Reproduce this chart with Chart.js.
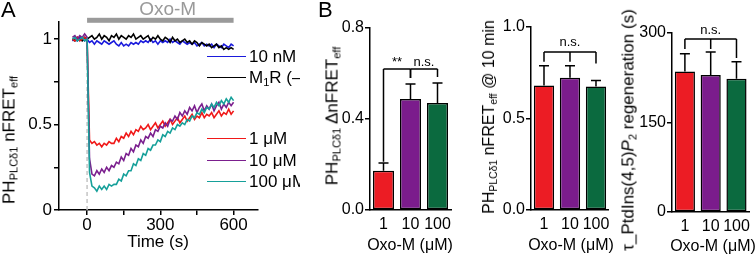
<!DOCTYPE html>
<html><head><meta charset="utf-8">
<script src="https://cdn.jsdelivr.net/npm/chart.js@4.4.1/dist/chart.umd.min.js"></script>
<style>
html,body{margin:0;padding:0;background:#fff;width:755px;height:257px;overflow:hidden;position:relative;font-family:'Liberation Sans',Arial,Helvetica,sans-serif;color:#000}
canvas{position:absolute}
.t{position:absolute;white-space:nowrap;line-height:1}
.rot{transform:translate(-50%,-50%) rotate(-90deg)}
.ctr{transform:translate(-50%,-50%)}
.sb{font-size:65%;position:relative;top:0.3em}
#wrapA{position:absolute;left:0;top:0;width:300px;height:257px;overflow:hidden}
.lg{position:absolute;left:207px;width:39px;height:0;border-top:1.6px solid #000}
</style></head><body>
<div id="wrapA">
<canvas id="cA" width="300" height="257" style="left:0;top:0"></canvas>
<div class="lg" style="top:56px;border-color:#1a1adc"></div>
<div class="lg" style="top:77px;border-color:#000"></div>
<div class="lg" style="top:138px;border-color:#f01818"></div>
<div class="lg" style="top:160px;border-color:#7b1f8e"></div>
<div class="lg" style="top:181px;border-color:#16a09a"></div>
<div class="t" style="left:249px;top:48px;font-size:17px">10 nM</div>
<div class="t" style="left:249px;top:69px;font-size:17px">M<span class="sb">1</span>R (–)</div>
<div class="t" style="left:249px;top:130px;font-size:17px">1 μM</div>
<div class="t" style="left:249px;top:152px;font-size:17px">10 μM</div>
<div class="t" style="left:249px;top:173px;font-size:17px">100 μM</div>
</div>
<canvas id="cB" width="160" height="257" style="left:300px;top:0"></canvas>
<canvas id="cC" width="155" height="257" style="left:460px;top:0"></canvas>
<canvas id="cD" width="140" height="257" style="left:615px;top:0"></canvas>

<div class="t" style="left:1px;top:-1px;font-size:22px">A</div>
<div class="t" style="left:318px;top:-1px;font-size:22px">B</div>

<div class="t rot" style="left:9px;top:140px;font-size:17px">PH<span class="sb">PLCδ1</span> nFRET<span class="sb">eff</span></div>
<div class="t ctr" style="left:158px;top:241px;font-size:17px">Time (s)</div>

<div class="t rot" style="left:332px;top:116px;font-size:17px">PH<span class="sb">PLCδ1</span> ΔnFRET<span class="sb">eff</span></div>
<div class="t ctr" style="left:410px;top:245px;font-size:16px">Oxo-M (μM)</div>

<div class="t rot" style="left:489px;top:117px;font-size:16px">PH<span class="sb">PLCδ1</span> nFRET<span class="sb">eff</span> @ 10 min</div>
<div class="t ctr" style="left:571px;top:245px;font-size:16px">Oxo-M (μM)</div>

<div class="t rot" style="left:628px;top:130px;font-size:17px">τ_PtdIns(4,5)<i>P</i><span class="sb">2</span> regeneration (s)</div>
<div class="t ctr" style="left:713px;top:246px;font-size:16px">Oxo-M (μM)</div>

<script>
// ---------- Panel A data ----------
const times = [-60,-50,-40,-30,-20,-10,0,
  10,20,30,40,50,60,70,80,90,100,
  110,120,130,140,150,160,170,180,190,200,
  210,220,230,240,250,260,270,280,290,300,
  310,320,330,340,350,360,370,380,390,400,
  410,420,430,440,450,460,470,480,490,500,
  510,520,530,540,550,560,570,580,590,600];

const nM10 = [0.99,1.00,0.99,1.01,1.00,0.99,1.00,
  0.98,0.99,0.97,0.99,0.98,0.97,0.99,0.98,0.97,0.98,
  0.99,0.97,0.96,0.98,0.96,0.97,0.96,0.98,0.97,0.98,
  0.97,0.99,0.98,0.99,0.98,1.00,0.98,0.99,0.97,0.99,
  0.98,0.99,0.98,1.00,0.98,0.99,0.98,0.97,0.99,0.98,
  0.97,0.98,0.97,0.98,0.96,0.97,0.98,0.96,0.97,0.96,
  0.97,0.95,0.97,0.96,0.95,0.97,0.96,0.95,0.97,0.96];

const m1rNeg = [1.00,0.99,1.01,1.00,0.99,1.01,1.00,
  1.01,1.02,1.00,1.01,1.03,1.00,1.02,1.01,0.99,1.02,
  1.01,1.03,1.00,1.02,1.01,1.00,1.02,1.01,1.03,1.00,
  1.01,1.02,1.00,1.01,1.02,0.99,1.01,1.00,1.02,1.00,
  0.99,1.01,1.00,0.98,1.01,0.99,1.00,0.98,0.99,1.00,
  0.98,0.99,0.97,0.99,0.98,0.96,0.98,0.97,0.96,0.97,
  0.95,0.96,0.97,0.95,0.96,0.94,0.95,0.94,0.95,0.94];

const uM1 = [1.00,0.99,1.01,0.99,1.00,1.01,1.00,
  0.41,0.39,0.40,0.38,0.39,0.37,0.39,0.38,0.40,0.39,
  0.39,0.42,0.40,0.43,0.42,0.45,0.43,0.46,0.44,0.47,
  0.46,0.49,0.47,0.48,0.50,0.47,0.49,0.51,0.48,0.50,
  0.52,0.49,0.51,0.53,0.50,0.52,0.54,0.51,0.53,0.55,
  0.52,0.54,0.56,0.53,0.55,0.54,0.57,0.54,0.56,0.55,
  0.57,0.54,0.56,0.58,0.55,0.57,0.56,0.59,0.56,0.58];

const uM10 = [1.01,1.02,1.00,1.02,1.01,1.03,1.01,
  0.30,0.21,0.20,0.23,0.21,0.24,0.22,0.25,0.23,0.26,
  0.25,0.28,0.27,0.31,0.29,0.33,0.32,0.36,0.34,0.38,
  0.37,0.41,0.39,0.43,0.42,0.45,0.43,0.47,0.46,0.49,
  0.48,0.51,0.49,0.53,0.52,0.55,0.53,0.57,0.55,0.58,
  0.56,0.60,0.58,0.61,0.57,0.60,0.62,0.58,0.61,0.59,
  0.62,0.58,0.61,0.63,0.59,0.62,0.60,0.63,0.61,0.63];

const uM100 = [1.00,1.01,0.99,1.00,1.01,0.99,1.00,
  0.22,0.14,0.13,0.11,0.14,0.12,0.14,0.12,0.15,0.14,
  0.15,0.15,0.18,0.17,0.21,0.20,0.23,0.23,0.27,0.26,
  0.30,0.29,0.33,0.32,0.36,0.35,0.38,0.38,0.41,0.40,
  0.44,0.43,0.46,0.45,0.48,0.47,0.50,0.49,0.51,0.50,
  0.53,0.52,0.55,0.54,0.57,0.56,0.59,0.57,0.60,0.59,
  0.62,0.60,0.63,0.61,0.64,0.62,0.65,0.63,0.66,0.64];

const xTickValuesA = [0,150,300,450,600];
const xTickLabelsA = ['0','','300','','600'];
const yTickValuesA = [0,0.25,0.5,0.75,1];
const yTickLabelsA = ['0','','0.5','','1'];

// ---------- Bar panels data ----------
const doseLabels = ['1','10','100'];
const barColors = ['#ec1c24','#7b1c8c','#0b6a3f'];
const deltaMean = [0.172,0.488,0.470];
const deltaSem  = [0.035,0.066,0.088];
const tenMinMean = [0.680,0.722,0.675];
const tenMinSem  = [0.108,0.066,0.033];
const tauMean = [235.6,229.5,223.3];
const tauSem  = [29.7,38.5,28.5];
const yTicksB = [0,0.4,0.8];  const yLabelsB = ['0.0','0.4','0.8'];
const yTicksC = [0,0.5,1.0];  const yLabelsC = ['0.0','0.5','1.0'];
const yTicksD = [0,150,300];  const yLabelsD = ['0','150','300'];
const sigB = [{cats:[0,1],y:0.62,legs:[0.212,0.58],text:'**'},{cats:[1,2],y:0.62,legs:[0.58,0.585],text:'n.s.'}];
const sigC = [{cats:[0,1,2],y:0.863,legs:[0.81,0.81,0.80],text:'n.s.'}];
const sigD = [{cats:[0,1,2],y:290,legs:[273,273,258],text:'n.s.'}];

// ---------- Common ----------
const FONT = "'Liberation Sans', Arial, Helvetica, sans-serif";
Chart.defaults.font.family = FONT;
Chart.defaults.color = '#000';
const setTicks = vals => s => { s.ticks = vals.map(v => ({value:v})); };

// ---------- Panel A ----------
const seriesA = [
  {data:uM100, color:'#16a09a'},
  {data:uM10,  color:'#7b1f8e'},
  {data:uM1,   color:'#f01818'},
  {data:m1rNeg,color:'#000000'},
  {data:nM10,  color:'#1a1adc'}
];
const panelAPlugin = {
  id:'panelA',
  beforeDatasetsDraw(chart){
    const {ctx, scales:{x,y}} = chart;
    ctx.save();
    ctx.strokeStyle = '#c4c4c4'; ctx.lineWidth = 1.5; ctx.setLineDash([4,3]);
    ctx.beginPath();
    ctx.moveTo(x.getPixelForValue(0), y.getPixelForValue(0));
    ctx.lineTo(x.getPixelForValue(0), y.getPixelForValue(1.0));
    ctx.stroke();
    ctx.restore();
  },
  afterDraw(chart){
    const {ctx, scales:{x,y}} = chart;
    ctx.save();
    ctx.fillStyle = '#9a9a9a';
    const yb = y.getPixelForValue(1.11);
    ctx.fillRect(x.getPixelForValue(0), yb-2.5, x.getPixelForValue(600)-x.getPixelForValue(0), 5);
    ctx.font = "19px " + FONT;
    ctx.textAlign = 'center'; ctx.textBaseline = 'middle';
    ctx.fillText('Oxo-M', x.getPixelForValue(330), yb-11);
    ctx.restore();
  }
};
new Chart(document.getElementById('cA'), {
  type:'line',
  data:{datasets: seriesA.map(s => ({
    data: times.map((t,i) => ({x:t, y:s.data[i]})),
    borderColor:s.color, borderWidth:1.6, pointRadius:0, tension:0, fill:false
  }))},
  options:{
    responsive:false, animation:false, events:[],
    layout:{padding:{left:0,right:42,top:22,bottom:0}},
    plugins:{legend:{display:false}, tooltip:{enabled:false}},
    scales:{
      x:{type:'linear', min:-115, max:700,
        afterBuildTicks:setTicks(xTickValuesA),
        afterFit:s=>{s.height=47;},
        ticks:{callback:(v,i)=>xTickLabelsA[i], font:{size:17}, padding:0, maxRotation:0, autoSkip:false},
        grid:{drawOnChartArea:false, drawTicks:true, tickLength:5, color:'#000', lineWidth:1.5},
        border:{display:true, color:'#000', width:1.5}},
      y:{type:'linear', min:0, max:1.1,
        afterBuildTicks:setTicks(yTickValuesA),
        afterFit:s=>{s.width=59;},
        ticks:{callback:(v,i)=>yTickLabelsA[i], font:{size:17}, padding:2},
        grid:{drawOnChartArea:false, drawTicks:true, tickLength:5, color:'#000', lineWidth:1.5},
        border:{display:true, color:'#000', width:1.5}}
    }
  },
  plugins:[panelAPlugin]
});

// ---------- Bar panels ----------
const errSigPlugin = {
  id:'errSig',
  afterDatasetsDraw(chart, args, opts){
    const {ctx, scales:{y}} = chart;
    const meta = chart.getDatasetMeta(0);
    const means = chart.data.datasets[0].data;
    ctx.save();
    ctx.strokeStyle = '#000'; ctx.lineWidth = 1.5;
    means.forEach((m,i) => {
      const xp = meta.data[i].x;
      const y0 = y.getPixelForValue(m), y1 = y.getPixelForValue(m + opts.sem[i]);
      ctx.beginPath();
      ctx.moveTo(xp, y0); ctx.lineTo(xp, y1);
      ctx.moveTo(xp-5, y1); ctx.lineTo(xp+5, y1);
      ctx.stroke();
    });
    opts.sig.forEach(b => {
      const xs = b.cats.map(c => meta.data[c].x);
      const yt = y.getPixelForValue(b.y);
      ctx.beginPath();
      ctx.moveTo(xs[0], yt); ctx.lineTo(xs[xs.length-1], yt);
      xs.forEach((xp,k) => { ctx.moveTo(xp, yt); ctx.lineTo(xp, y.getPixelForValue(b.legs[k])); });
      ctx.stroke();
      ctx.font = "13px " + FONT;
      ctx.fillStyle = '#000'; ctx.textAlign = 'center'; ctx.textBaseline = 'alphabetic';
      ctx.fillText(b.text, (xs[0]+xs[xs.length-1])/2, yt - opts.gap);
    });
    ctx.restore();
  }
};
function barPanel(id, means, sem, tickVals, tickLabels, yMax, yWidth, pad, xHeight, sig, gap){
  new Chart(document.getElementById(id), {
    type:'bar',
    data:{labels:doseLabels, datasets:[{data:means, backgroundColor:barColors, borderColor:'#000',
      borderWidth:1.5, borderSkipped:false, barPercentage:0.78, categoryPercentage:1}]},
    options:{
      responsive:false, animation:false, events:[],
      layout:{padding:pad},
      plugins:{legend:{display:false}, tooltip:{enabled:false}, errSig:{sem:sem, sig:sig, gap:gap}},
      scales:{
        x:{type:'category', offset:true,
          afterFit:s=>{s.height=xHeight;},
          ticks:{font:{size:16}, padding:5, maxRotation:0, minRotation:0, autoSkip:false},
          grid:{display:false, drawTicks:false},
          border:{display:true, color:'#000', width:1.5}},
        y:{type:'linear', min:0, max:yMax,
          afterBuildTicks:setTicks(tickVals),
          afterFit:s=>{s.width=yWidth;},
          ticks:{callback:(v,i)=>tickLabels[i], font:{size:16}, padding:1},
          grid:{drawOnChartArea:false, drawTicks:true, tickLength:5, color:'#000', lineWidth:1.5},
          border:{display:true, color:'#000', width:1.5}}
      }
    },
    plugins:[errSigPlugin]
  });
}
barPanel('cB', deltaMean, deltaSem, yTicksB, yLabelsB, 0.8, 70, {left:0,right:9,top:28,bottom:0}, 47, sigB, 3);
barPanel('cC', tenMinMean, tenMinSem, yTicksC, yLabelsC, 1.0, 71, {left:0,right:4,top:27,bottom:0}, 47, sigC, 6);
barPanel('cD', tauMean, tauSem, yTicksD, yLabelsD, 300, 57, {left:0,right:1,top:33,bottom:0}, 45, sigD, 5);
</script>
</body></html>
